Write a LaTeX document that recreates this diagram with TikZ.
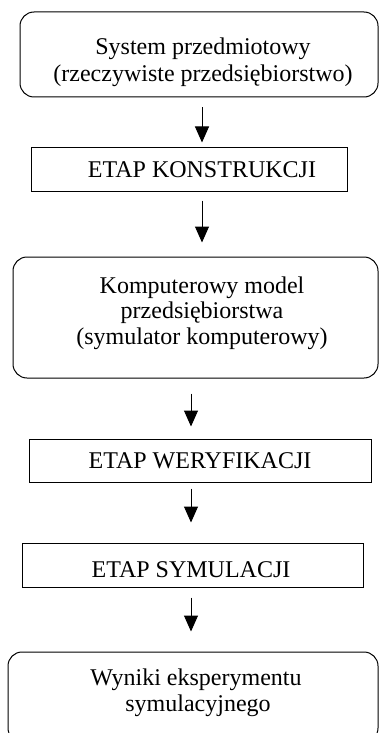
\documentclass[tikz,border=0pt]{standalone}
\usepackage{fontspec}
\setmainfont{Liberation Serif}
\usetikzlibrary{arrows.meta}
\begin{document}
\begin{tikzpicture}[x=1pt,y=-1pt,
  box/.style={draw,line width=1pt,inner sep=0pt},
  rbox/.style={box,rounded corners=14pt},
  txt/.style={inner sep=0pt,anchor=base,font=\fontsize{24}{26}\selectfont},
  arr/.style={line width=1pt,-{Triangle[width=14pt,length=16pt]}}]
\useasboundingbox (0,0) rectangle (379,733);
% boxes
\node[rbox,minimum width=358pt,minimum height=85pt] (b1) at (199,54.5) {};
\node[box,minimum width=316pt,minimum height=44pt] (b2) at (189,169) {};
\node[rbox,minimum width=365pt,minimum height=121pt] (b3) at (195.5,317.5) {};
\node[box,minimum width=342pt,minimum height=43pt] (b4) at (200,460.5) {};
\node[box,minimum width=341pt,minimum height=44pt] (b5) at (192.5,565) {};
\node[rbox,minimum width=370pt,minimum height=90pt] (b6) at (193,697) {};
% texts
\node[txt] (t1a) at (203,55) {System przedmiotowy};
\node[txt] (t1b) at (203,82) {(rzeczywiste przedsiębiorstwo)};
\node[txt] (t2) at (202,177) {ETAP KONSTRUKCJI};
\node[txt] (t3a) at (202,293) {Komputerowy model};
\node[txt] (t3b) at (202,318) {przedsiębiorstwa};
\node[txt] (t3c) at (202,344) {(symulator komputerowy)};
\node[txt] (t4) at (200,468) {ETAP WERYFIKACJI};
\node[txt] (t5) at (191,577) {ETAP SYMULACJI};
\node[txt] (t6a) at (196,685) {Wyniki eksperymentu};
\node[txt] (t6b) at (198,711) {symulacyjnego};
% arrow columns
\coordinate (ca) at (202,0);
\coordinate (cb) at (191,0);
\draw[arr,shorten <=10pt,shorten >=4pt] (b1.south -| ca) -- (b2.north -| ca);
\draw[arr,shorten <=9pt,shorten >=14pt] (b2.south -| ca) -- (b3.north -| ca);
\draw[arr,shorten <=15pt,shorten >=12pt] (b3.south -| cb) -- (b4.north -| cb);
\draw[arr,shorten <=6pt,shorten >=20pt] (b4.south -| cb) -- (b5.north -| cb);
\draw[arr,shorten <=10pt,shorten >=20pt] (b5.south -| cb) -- (b6.north -| cb);
\end{tikzpicture}
\end{document}
